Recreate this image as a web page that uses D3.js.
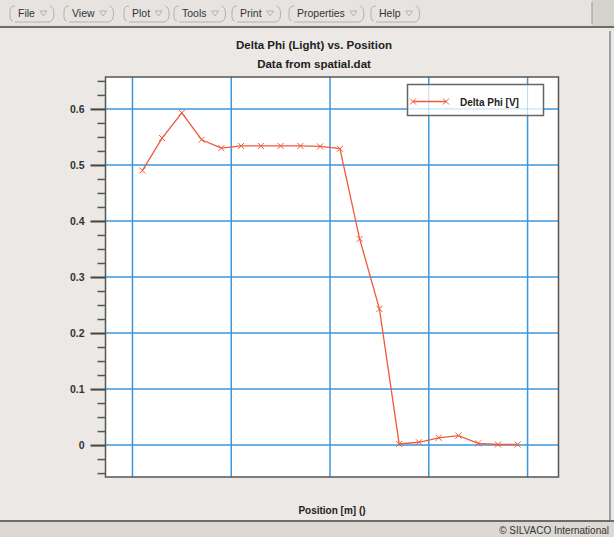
<!DOCTYPE html>
<html>
<head>
<meta charset="utf-8">
<script src="https://cdn.jsdelivr.net/npm/d3@7"></script>
<style>
  html, body { margin: 0; padding: 0; background: #ebe8e5; }
  svg { display: block; }
  text { font-family: "Liberation Sans", Arial, sans-serif; }
</style>
</head>
<body>
<svg width="614" height="537"></svg>
<script>
// data
var positions = [0.1, 0.3, 0.5, 0.7, 0.9, 1.1, 1.3, 1.5, 1.7, 1.9,
                 2.1, 2.3, 2.5, 2.7, 2.9, 3.1, 3.3, 3.5, 3.7, 3.9];
var deltaPhi = [0.490, 0.548, 0.593, 0.545, 0.530, 0.534, 0.534, 0.534, 0.534, 0.533,
                0.529, 0.368, 0.243, 0.002, 0.005, 0.013, 0.017, 0.003, 0.001, 0.001];
var yTicks = [0, 0.1, 0.2, 0.3, 0.4, 0.5, 0.6];
var yTickLabels = ["0", "0.1", "0.2", "0.3", "0.4", "0.5", "0.6"];
var yMinorTicks = [-0.05, -0.025, 0.025, 0.05, 0.075, 0.125, 0.15, 0.175, 0.225, 0.25, 0.275,
                   0.325, 0.35, 0.375, 0.425, 0.45, 0.475, 0.525, 0.55, 0.575, 0.625, 0.65];
var xGrid = [0, 1, 2, 3, 4];
var menuItems = ["File", "View", "Plot", "Tools", "Print", "Properties", "Help"];

var svg = d3.select('svg');

var plot = { left: 105.5, top: 77, right: 558.5, bottom: 477 };

var x = d3.scaleLinear().domain([-0.273, 4.313]).range([plot.left, plot.right]);
var y = d3.scaleLinear().domain([-0.057, 0.657]).range([plot.bottom, plot.top]);

// ---- menu bar ----
svg.append('rect').attr('x', 0).attr('y', 0).attr('width', 614).attr('height', 26).attr('fill', '#e6e3e0');
svg.append('rect').attr('x', 592).attr('y', 0).attr('width', 22).attr('height', 26).attr('fill', '#d6d2ce');
svg.append('line').attr('x1', 592).attr('x2', 592).attr('y1', 2).attr('y2', 24).attr('stroke', '#999');
svg.append('line').attr('x1', 0).attr('x2', 614).attr('y1', 27).attr('y2', 27)
	.attr('stroke', '#6e6a66').attr('stroke-width', 2);

var menuX = [10, 64, 124, 174, 232, 289, 371];
var menu = svg.append('g');
menuItems.forEach(function(name, i){
	var g = menu.append('g').attr('transform', 'translate(' + menuX[i] + ',5)');
	var t = g.append('text').attr('x', 8).attr('y', 12)
		.attr('font-family', 'DejaVu Sans').attr('font-size', 10.5).attr('fill', '#333').text(name);
	var w = t.node().getComputedTextLength();
	// little menu triangle
	g.append('path')
		.attr('d', 'M' + (w + 13) + ',6 L' + (w + 20) + ',6 L' + (w + 16.5) + ',11 Z')
		.attr('fill', 'none').attr('stroke', '#aaa').attr('stroke-width', 0.8);
	// rounded button outline
	g.append('path')
		.attr('d', 'M3,16 Q0,16 0,12 L0,6 Q0,1 5,1 M5,17 L' + (w + 22) + ',17 Q' + (w + 27) + ',16 ' + (w + 27) + ',9 Q' + (w + 27) + ',2 ' + (w + 23) + ',1')
		.attr('fill', 'none').attr('stroke', '#b5b1ad').attr('stroke-width', 1);
});

// ---- panel ----
svg.append('line').attr('x1', 610).attr('x2', 610).attr('y1', 31).attr('y2', 520)
	.attr('stroke', '#8a8682').attr('stroke-width', 1.5);

// status bar
svg.append('rect').attr('x', 0).attr('y', 521).attr('width', 614).attr('height', 16).attr('fill', '#dcd8d4');
svg.append('line').attr('x1', 0).attr('x2', 614).attr('y1', 521).attr('y2', 521)
	.attr('stroke', '#6e6a66').attr('stroke-width', 2);
svg.append('text').attr('x', 609).attr('y', 534).attr('text-anchor', 'end')
	.attr('font-family', 'DejaVu Sans').attr('font-size', 10).attr('fill', '#333')
	.text('\u00a9 SILVACO International');

// titles
svg.append('text').attr('x', 314).attr('y', 49).attr('text-anchor', 'middle')
	.attr('font-weight', 'bold').attr('font-size', 11.5).attr('fill', '#222')
	.text('Delta Phi (Light) vs. Position');
svg.append('text').attr('x', 314).attr('y', 68).attr('text-anchor', 'middle')
	.attr('font-weight', 'bold').attr('font-size', 11.5).attr('fill', '#222')
	.text('Data from spatial.dat');

// plot area
svg.append('rect')
	.attr('x', plot.left).attr('y', plot.top)
	.attr('width', plot.right - plot.left).attr('height', plot.bottom - plot.top)
	.attr('fill', '#fff');

// grid
var grid = svg.append('g');
grid.selectAll('.vg').data(xGrid).enter().append('line')
	.attr('x1', function(d){ return x(d); }).attr('x2', function(d){ return x(d); })
	.attr('y1', plot.top).attr('y2', plot.bottom)
	.attr('stroke', '#3b97dc').attr('stroke-width', 1.5);
grid.selectAll('.hg').data(yTicks).enter().append('line')
	.attr('x1', plot.left).attr('x2', plot.right)
	.attr('y1', function(d){ return y(d); }).attr('y2', function(d){ return y(d); })
	.attr('stroke', '#3b97dc').attr('stroke-width', 1.5);

// y axis: major + minor ticks
var majorAxis = d3.axisLeft(y).tickValues(yTicks).tickSize(15).tickPadding(6)
	.tickFormat(function(d, i){ return yTickLabels[i]; });
var gMajor = svg.append('g').attr('transform', 'translate(' + plot.left + ',0)').call(majorAxis);
gMajor.select('.domain').remove();
gMajor.selectAll('line').attr('stroke', '#444').attr('stroke-width', 2);
gMajor.selectAll('text').attr('font-family', '"Liberation Sans", Arial, sans-serif')
	.attr('font-weight', 'bold').attr('font-size', 10.5).attr('fill', '#333');

var minorAxis = d3.axisLeft(y).tickValues(yMinorTicks).tickSize(8).tickFormat('');
var gMinor = svg.append('g').attr('transform', 'translate(' + plot.left + ',0)').call(minorAxis);
gMinor.select('.domain').remove();
gMinor.selectAll('line').attr('stroke', '#555').attr('stroke-width', 1.5);

// data line
var line = d3.line()
	.x(function(d, i){ return x(positions[i]); })
	.y(function(d){ return y(d); });
var lineColor = '#ee5a3a';
svg.append('path').datum(deltaPhi)
	.attr('d', line).attr('fill', 'none')
	.attr('stroke', lineColor).attr('stroke-width', 1.3);

var cross = 'M-3,-3L3,3M-3,3L3,-3';
svg.selectAll('.mk').data(deltaPhi).enter().append('path')
	.attr('transform', function(d, i){ return 'translate(' + x(positions[i]) + ',' + y(d) + ')'; })
	.attr('d', cross).attr('stroke', lineColor).attr('stroke-width', 1).attr('fill', 'none');

// plot border
svg.append('rect')
	.attr('x', plot.left).attr('y', plot.top)
	.attr('width', plot.right - plot.left).attr('height', plot.bottom - plot.top)
	.attr('fill', 'none').attr('stroke', '#555').attr('stroke-width', 1.5);

// legend
var lg = { x: 407.5, y: 84.5, w: 136, h: 31 };
var legend = svg.append('g');
legend.append('rect').attr('x', lg.x).attr('y', lg.y).attr('width', lg.w).attr('height', lg.h).attr('fill', '#fff');
// grid shows through as dotted lines
xGrid.filter(function(d){ return x(d) > lg.x && x(d) < lg.x + lg.w; }).forEach(function(d){
	legend.append('line').attr('x1', x(d)).attr('x2', x(d)).attr('y1', lg.y).attr('y2', lg.y + lg.h)
		.attr('stroke', '#7ab8e6').attr('stroke-width', 1).attr('stroke-dasharray', '1,1');
});
yTicks.filter(function(d){ return y(d) > lg.y && y(d) < lg.y + lg.h; }).forEach(function(d){
	legend.append('line').attr('x1', lg.x).attr('x2', lg.x + lg.w).attr('y1', y(d)).attr('y2', y(d))
		.attr('stroke', '#7ab8e6').attr('stroke-width', 1).attr('stroke-dasharray', '1,1');
});
legend.append('rect').attr('x', lg.x).attr('y', lg.y).attr('width', lg.w).attr('height', lg.h)
	.attr('fill', 'none').attr('stroke', '#666').attr('stroke-width', 1.5);
legend.append('line').attr('x1', 413).attr('x2', 446).attr('y1', 101.5).attr('y2', 101.5)
	.attr('stroke', lineColor).attr('stroke-width', 1.3);
[413, 446].forEach(function(px){
	legend.append('path').attr('transform', 'translate(' + px + ',101.5)')
		.attr('d', cross).attr('stroke', lineColor).attr('stroke-width', 1).attr('fill', 'none');
});
legend.append('text').attr('x', 460).attr('y', 105.5)
	.attr('font-weight', 'bold').attr('font-size', 10).attr('fill', '#222').text('Delta Phi [V]');

// x axis title
svg.append('text').attr('x', 332).attr('y', 514).attr('text-anchor', 'middle')
	.attr('font-weight', 'bold').attr('font-size', 10).attr('fill', '#222').text('Position [m] ()');
</script>
</body>
</html>
